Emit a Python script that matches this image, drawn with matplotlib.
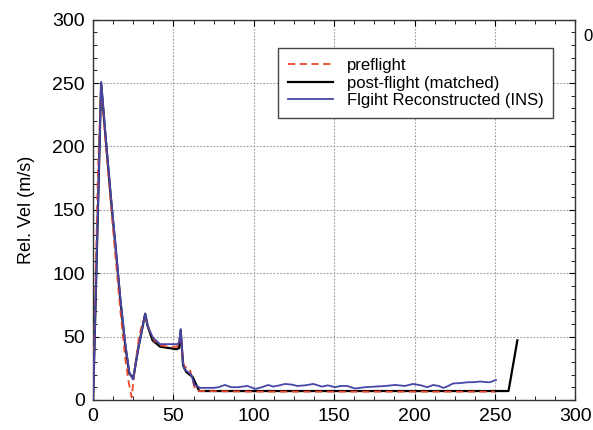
import matplotlib.pyplot as plt
from matplotlib.ticker import MultipleLocator

plt.rcParams['font.family'] = ['Liberation Sans', 'DejaVu Sans']

# preflight prediction
pre_t = [0, 1, 3, 5, 8, 11, 14, 17, 20, 22, 24, 26, 28.6, 31, 33, 35, 38, 42, 47, 52,
         53.5, 54.5, 56, 57, 60, 62, 63.5, 66, 100, 150, 200, 250]
pre_v = [0, 60, 180, 248, 200, 155, 112, 70, 33, 15, 2, 25, 50, 62, 64, 55, 47, 43, 42, 42,
         44, 52, 30, 26, 25, 15, 8, 7, 6.5, 6.5, 6.5, 6.5]

# post-flight (matched)
post_t = [0, 5, 8, 11, 14, 17, 20, 22.5, 25, 28, 32.4, 34, 37, 41.7, 52, 53.5, 54.5, 56, 58,
          60, 62, 66, 258.5, 264]
post_v = [0, 250, 204, 160, 120, 78, 43, 21, 17, 40, 68, 58, 47, 42, 40, 41, 55, 27, 22, 20,
          18, 7, 7, 47]

# flight reconstructed (INS)
ins_t = [0, 5, 8, 11, 14, 17, 20, 22.5, 24.9, 28, 32.4, 34, 37.3, 41.7, 52, 53.5, 54.5, 56,
         57, 59, 61, 63, 66.6, 70, 75, 78, 82, 86, 90, 96, 101, 105, 109, 112, 116, 119.5,
         124, 127, 132, 137, 142.5, 146, 150.6, 154, 158, 163, 169, 175.5, 182, 188, 194,
         199, 204, 208, 211.6, 215, 218, 221, 224, 228, 232.7, 237, 241, 245, 247, 250.7]
ins_v = [0, 251, 205, 162, 122, 80, 45, 22, 16, 40, 68, 58, 49, 44, 44, 45, 56, 28,
         24, 22, 20, 12, 9.5, 9.5, 9.5, 10, 11.8, 10, 10, 11, 8.7, 10, 11.8, 10.5, 11.5, 12.6,
         12, 11, 11.5, 12.6, 10.5, 11.5, 10, 11, 11, 9, 10, 10.5, 11, 11.8, 11,
         12.6, 11.5, 10, 11.8, 11, 9.5, 11, 13, 13.2, 13.9, 14, 14.5, 14, 13.9, 15.8]

fig = plt.figure(figsize=(5.93, 4.30), dpi=100)
ax = fig.add_axes([0.157, 0.070, 0.813, 0.884])

ax.plot(post_t, post_v, color='black', lw=1.6, label='post-flight (matched)', zorder=2)
ax.plot(pre_t, pre_v, color='#e8472b', lw=1.3, ls=(0, (4, 2.5)), label='preflight', zorder=3)
ax.plot(ins_t, ins_v, color='#4646a6', lw=1.3, label='Flgiht Reconstructed (INS)', zorder=4)

ax.set_xlim(0, 300)
ax.set_ylim(0, 300)
ax.xaxis.set_major_locator(MultipleLocator(50))
ax.yaxis.set_major_locator(MultipleLocator(50))
ax.xaxis.set_minor_locator(MultipleLocator(12.5))
ax.yaxis.set_minor_locator(MultipleLocator(10))
ax.tick_params(which='both', direction='in', top=True, right=True, labelsize=14, pad=6)
ax.tick_params(which='major', length=4)
ax.tick_params(which='minor', length=3)
ax.grid(True, which='major', ls=(0, (1.5, 1.5)), color='#999999', lw=0.8)
for s in ax.spines.values():
    s.set_color('#333333')
    s.set_linewidth(1.0)

ax.set_ylabel('Rel. Vel (m/s)', fontsize=13, labelpad=12)
ax.text(1.017, 0.955, '0', transform=ax.transAxes, fontsize=12, va='center', ha='left')

handles, labels = ax.get_legend_handles_labels()
order = [1, 0, 2]
ax.legend([handles[i] for i in order], [labels[i] for i in order],
          loc='upper left', bbox_to_anchor=(0.384, 0.925), fontsize=12,
          fancybox=False, edgecolor='#444444', framealpha=1, handlelength=2.7,
          handletextpad=0.8, borderpad=0.6, labelspacing=0.15, borderaxespad=0)

fig.savefig('out.png', dpi=100)
